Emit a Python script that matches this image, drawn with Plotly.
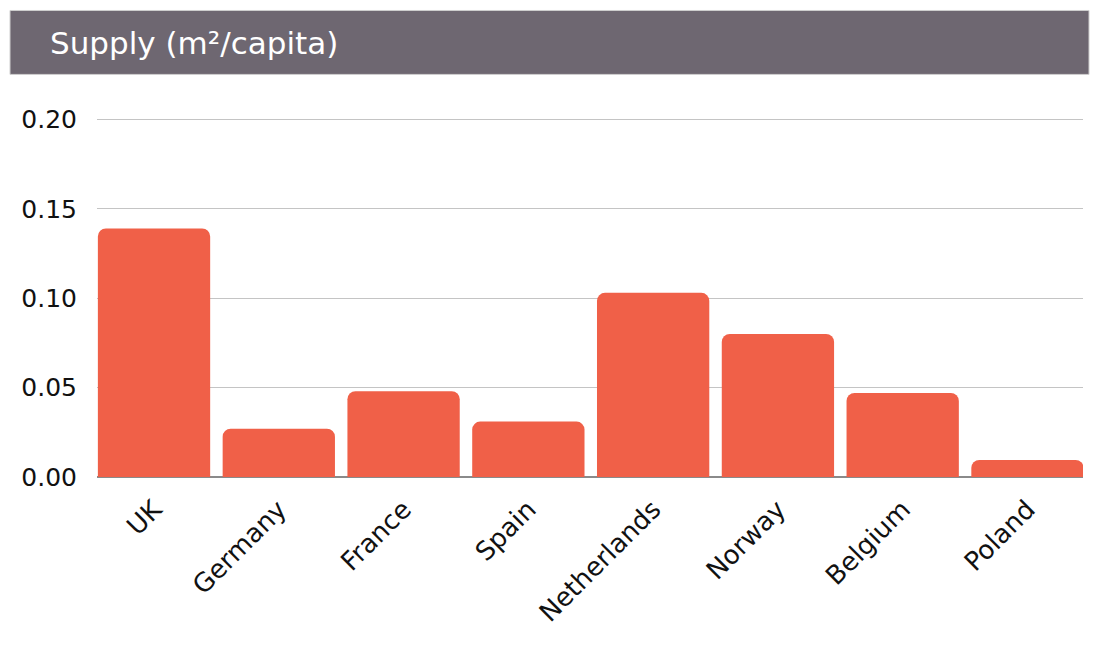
import plotly.graph_objects as go

countries = ["UK", "Germany", "France", "Spain", "Netherlands", "Norway", "Belgium", "Poland"]
supply = [0.139, 0.027, 0.048, 0.031, 0.103, 0.080, 0.047, 0.0095]
title_text = "Supply (m²/capita)"
tick_vals = [0, 0.05, 0.10, 0.15, 0.20]
tick_text = ["0.00", "0.05", "0.10", "0.15", "0.20"]

OFF = 8  # page body margin
YMAX = 0.203
W, H = 1101 - OFF, 665 - OFF
ph = 358 * YMAX / 0.2
B = 188
T = H - B - ph
L, R = 97 - OFF, 18
pw = W - L - R

def px_x(x):
    return (x - OFF - L) / pw

def px_y(y):
    return (H - B - (y - OFF)) / ph

fig = go.Figure(go.Bar(
    x=countries, y=supply,
    marker=dict(color="#f06048", line=dict(width=0)),
))

fig.update_layout(
    width=W, height=H,
    margin=dict(l=L, r=R, t=T, b=B),
    paper_bgcolor="white", plot_bgcolor="white",
    font=dict(family="DejaVu Sans, sans-serif", color="#111111"),
    bargap=0.1,
    barcornerradius=8,
    showlegend=False,
    xaxis=dict(tickangle=-45, tickfont=dict(size=26), showgrid=False,
               ticks="", showline=False, range=[-0.457, 7.445],
               ticklabelstandoff=11),
    yaxis=dict(range=[0, YMAX], tickvals=tick_vals, ticktext=tick_text,
               tickfont=dict(size=25), gridcolor="#c4c4c4", gridwidth=1,
               zeroline=True, zerolinecolor="#8a8a8a", zerolinewidth=1.5,
               ticks="", showline=False, ticklabelstandoff=19),
    shapes=[dict(type="rect", xref="paper", yref="paper",
                 x0=px_x(10), x1=px_x(1089), y0=px_y(74), y1=px_y(10),
                 fillcolor="#6e6771", line=dict(color="#cfcfcf", width=1), layer="below")],
    annotations=[dict(text=title_text, xref="paper", yref="paper",
                      x=px_x(48), y=px_y(43), xanchor="left", yanchor="middle",
                      showarrow=False, font=dict(size=31, color="white"))],
)

fig.write_html("out.html")
